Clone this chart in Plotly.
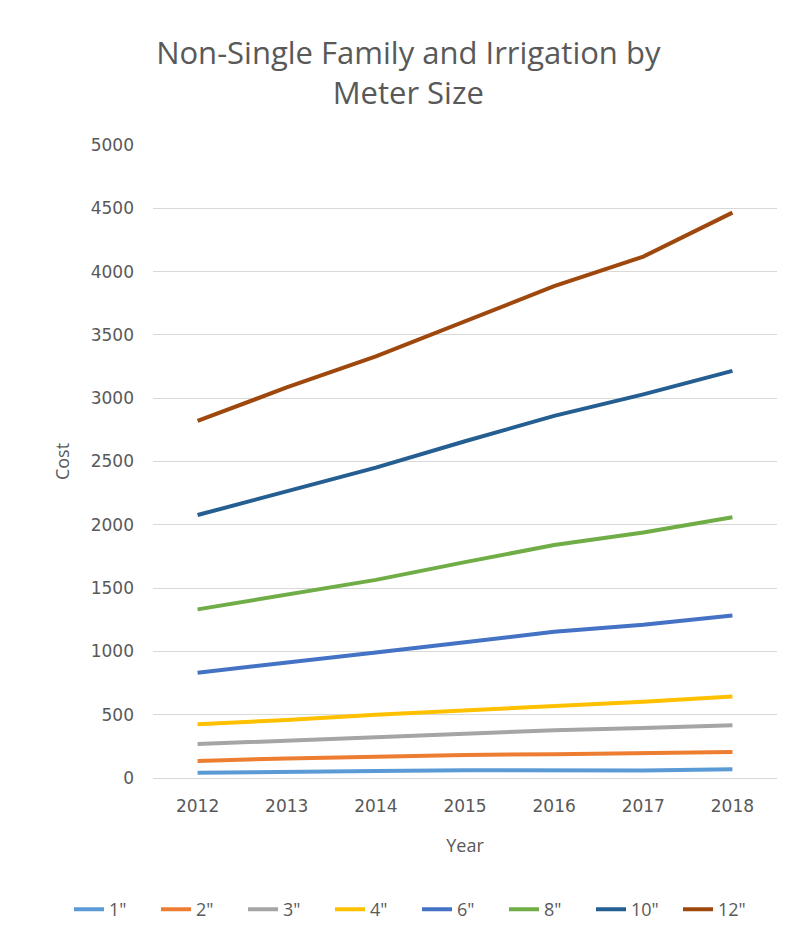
import plotly.graph_objects as go

years = ["2012", "2013", "2014", "2015", "2016", "2017", "2018"]
series_names = ['1"', '2"', '3"', '4"', '6"', '8"', '10"', '12"']
s1 = [42, 45, 55, 62, 63, 60, 70]
s2 = [134, 155, 168, 182, 188, 195, 205]
s3 = [268, 292, 322, 350, 378, 395, 417]
s4 = [424, 458, 500, 532, 571, 602, 644]
s6 = [832, 915, 992, 1072, 1155, 1210, 1283]
s8 = [1332, 1450, 1565, 1705, 1840, 1940, 2060]
s10 = [2077, 2262, 2452, 2660, 2860, 3030, 3216]
s12 = [2820, 3085, 3330, 3610, 3885, 4118, 4466]
values = [s1, s2, s3, s4, s6, s8, s10, s12]
colors = ["#5B9BD5", "#ED7D31", "#A5A5A5", "#FFC000", "#4472C4", "#70AD47", "#255E91", "#9E480E"]

fig = go.Figure()
for name, vals, col in zip(series_names, values, colors):
    fig.add_trace(go.Scatter(x=years, y=vals, name=name, mode="lines",
                             line=dict(color=col, width=4)))

title_font = "Open Sans, sans-serif"
tick_font = "DejaVu Sans, sans-serif"
grey = "#595959"
W, H = 799, 940
ml, mr, mt, mb = 20, 10, 145, 162
pw = W - ml - mr
fig.update_layout(
    width=W, height=H,
    paper_bgcolor="white", plot_bgcolor="white",
    margin=dict(l=ml, r=mr, t=mt, b=mb, autoexpand=False),
    title=dict(text="Non-Single Family and Irrigation by<br>Meter Size",
               x=0.511, xanchor="center", y=0.932, yanchor="middle",
               font=dict(family=title_font, size=31, color=grey)),
    font=dict(family=title_font, color=grey, size=15),
    xaxis=dict(type="category", range=[-0.5, 6.5], showgrid=False, zeroline=False,
               domain=[(153 - ml) / pw, (777 - ml) / pw],
               showline=False, ticks="", ticklabelstandoff=16,
               tickfont=dict(family=tick_font, size=17, color=grey),
               title=dict(text="Year", font=dict(family=title_font, size=18, color=grey),
                          standoff=24)),
    yaxis=dict(range=[0, 5000], dtick=500, showgrid=True, gridcolor="#d9d9d9",
               gridwidth=1, zeroline=True, zerolinecolor="#d9d9d9", zerolinewidth=1,
               showline=False, ticks="", ticklabelstandoff=18,
               tickfont=dict(family=tick_font, size=17, color=grey),
               title=dict(text="Cost", font=dict(family=title_font, size=18, color=grey),
                          standoff=16)),
    legend=dict(orientation="h", x=(417 - ml) / pw, xanchor="center", y=-0.208, yanchor="middle",
                font=dict(family=title_font, size=18, color=grey),
                entrywidth=42, entrywidthmode="pixels",
                tracegroupgap=0),
    showlegend=True,
)

fig.write_html("out.html")
